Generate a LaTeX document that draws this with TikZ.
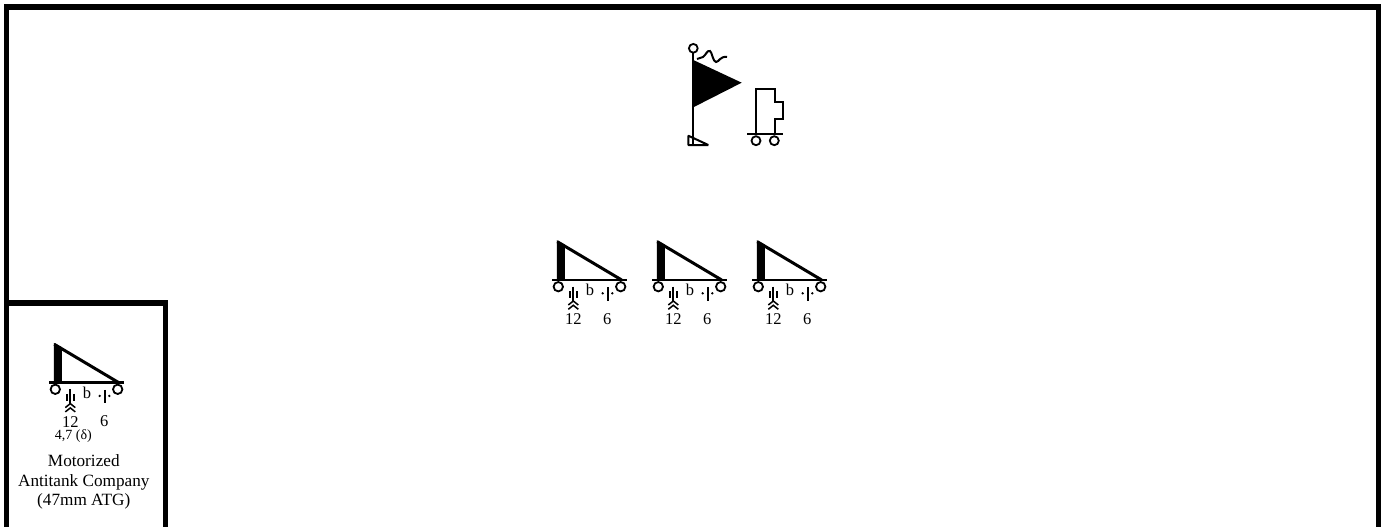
\documentclass[tikz,border=0pt]{standalone}
\usepackage{fontspec}
\setmainfont{Liberation Serif}
\usetikzlibrary{positioning}

\begin{document}
\begin{tikzpicture}[
  x=1pt, y=-1pt,
  frameline/.style={line width=5.5pt, miter limit=10},
  symline/.style={line width=2pt},
  wheel/.style={line width=1.8pt, fill=white},
  numlabel/.style={font=\fontsize{16.5}{17}\selectfont, inner sep=0pt},
  smalllabel/.style={font=\fontsize{14}{15}\selectfont, inner sep=0pt},
  caption/.style={font=\fontsize{17.2}{19.4}\selectfont, align=center, inner sep=0pt},
  pics/atgun/.style={code={
    % gun body
    \fill (-0.5,-1.5) -- (7.5,3) -- (7.5,38) -- (-0.5,38) -- cycle;
    \draw[line width=3pt] (0,0) -- (64.4,38.3);
    \draw[line width=2.4pt] (-5,38) -- (70,38);
    \draw[wheel] (1,45) circle (4.7);
    \draw[wheel] (63.4,45) circle (4.7);
    % weapon marks
    \draw[symline] (16,45) -- (16,60);
    \draw[symline] (12.7,49.5) -- (12.7,56.5);
    \draw[symline] (19.4,49.5) -- (19.4,56.5);
    \draw[line width=1.5pt] (11,63.3) -- (16,59.3) -- (21,63.3);
    \draw[line width=1.5pt] (11,67.6) -- (16,63.6) -- (21,67.6);
    \node[numlabel] (-b) at (32.7,48.3) {b};
    \draw[symline] (50.3,45.6) -- (50.3,59);
    \fill (45.4,51.6) circle (1.3);
    \fill (55,51.6) circle (1.3);
    \node[numlabel] (-men) at (16,77.3) {12};
    \node[numlabel] (-num) at (50,77.3) {6};
  }}
]
  \useasboundingbox (0,0) rectangle (1386,527);

  % frames
  \draw[frameline] (6.5,527) -- (6.5,7) -- (1378.5,7) -- (1378.5,527);
  \draw[frameline] (6.5,303) -- (165.5,303) -- (165.5,527);

  % flag
  \draw[symline] (693.3,52.6) -- (693.3,145);
  \draw[wheel] (693.3,48.3) circle (4.4);
  \fill (693.3,60) -- (741.7,82.7) -- (693.3,107.3) -- cycle;
  \draw[symline] (697,59) -- (703,57) .. controls (706,55) and (707,50) .. (710,51)
    .. controls (712,52) and (713,62) .. (716,62)
    .. controls (719,62) and (720,56) .. (727,57);
  \draw[symline, line join=bevel] (688.3,135.7) -- (708.3,145) -- (688.3,145) -- cycle;

  % truck
  \draw[symline] (756,133.7) -- (756,89.3) -- (775,89.3) -- (775,101.7)
    -- (782.7,101.7) -- (782.7,119) -- (775,119) -- (775,133.7);
  \draw[line width=2.4pt] (747.3,133.7) -- (783.3,133.7);
  \draw[wheel] (756,140.7) circle (4.5);
  \draw[wheel] (774.3,140.7) circle (4.5);

  % guns
  \pic (gunA) at (557.3,241.7) {atgun};
  \pic (gunB) at (657.3,241.7) {atgun};
  \pic (gunC) at (757.3,241.7) {atgun};
  \pic (gunD) at (54.3,344.3) {atgun};

  \node[smalllabel] (calibre) at (73.3,435.7) {4,7 (δ)};
  \node[caption] (company) at (83.8,482) {Motorized\\Antitank Company\\(47mm ATG)};
\end{tikzpicture}
\end{document}
